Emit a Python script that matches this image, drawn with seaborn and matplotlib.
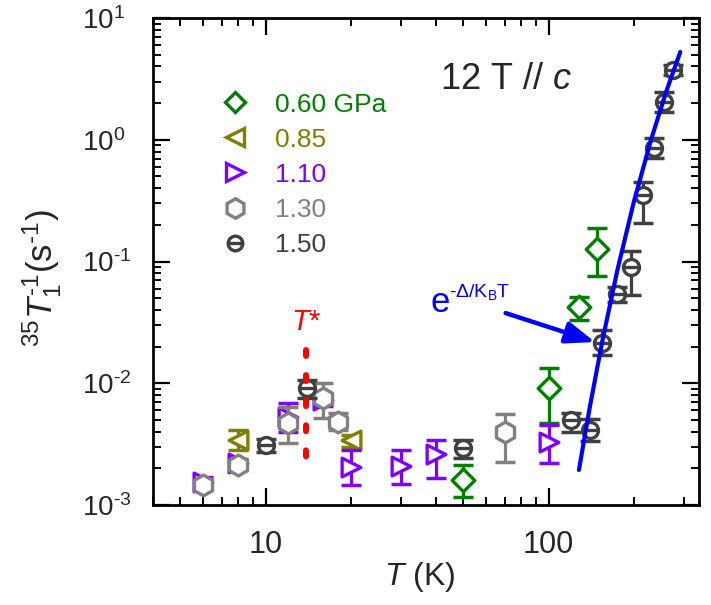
import numpy as np
import pandas as pd
import matplotlib
matplotlib.use('Agg')
import matplotlib.pyplot as plt
import seaborn as sns
from matplotlib.path import Path
from matplotlib.lines import Line2D
from matplotlib.ticker import LogLocator, NullFormatter, FuncFormatter

# ---------------- data ----------------
T_060 = [50, 100, 128, 148]
R_060 = [1.6e-3, 9.1e-3, 0.042, 0.127]
R_060_lo = [1.16e-3, 4.7e-3, 0.033, 0.076]
R_060_hi = [2.13e-3, 0.0133, 0.051, 0.188]

T_085 = [8, 20]
R_085 = [3.4e-3, 3.4e-3]
R_085_lo = [2.85e-3, 3.0e-3]
R_085_hi = [4.1e-3, 3.75e-3]

T_110 = [6, 8, 12, 16, 20, 30, 40, 100]
R_110 = [1.55e-3, 2.2e-3, 5.3e-3, 7.3e-3, 2.05e-3, 2.1e-3, 2.6e-3, 3.3e-3]
R_110_lo = [1.45e-3, 2.0e-3, 4.0e-3, 6.5e-3, 1.46e-3, 1.5e-3, 1.67e-3, 2.2e-3]
R_110_hi = [1.7e-3, 2.4e-3, 6.9e-3, 8.0e-3, 2.83e-3, 2.83e-3, 3.4e-3, 4.5e-3]

T_130 = [6, 8, 12, 16, 18, 70]
R_130 = [1.45e-3, 2.13e-3, 4.7e-3, 7.6e-3, 4.8e-3, 3.98e-3]
R_130_lo = [1.33e-3, 1.95e-3, 3.2e-3, 5.2e-3, 4.1e-3, 2.25e-3]
R_130_hi = [1.55e-3, 2.3e-3, 6.4e-3, 0.010, 5.7e-3, 5.6e-3]

T_150 = [10, 14, 50, 120, 140, 155, 175, 195, 215, 235, 255, 275]
R_150 = [3.1e-3, 9.1e-3, 2.94e-3, 5.0e-3, 4.1e-3, 0.0214, 0.054, 0.090, 0.35, 0.855, 2.04, 3.74]
R_150_lo = [2.75e-3, 7.6e-3, 2.43e-3, 3.98e-3, 3.35e-3, 0.017, 0.0465, 0.053, 0.207, 0.71, 1.69, 3.4]
R_150_hi = [3.5e-3, 0.0106, 3.4e-3, 5.7e-3, 5.1e-3, 0.0273, 0.062, 0.122, 0.45, 1.03, 2.47, 4.1]

# activated (exponential) guide line
T_fit = [128, 140, 155, 175, 200, 230, 260, 292]
R_fit = [1.94e-3, 6.47e-3, 0.0225, 0.0849, 0.308, 0.995, 2.46, 5.26]

# T* marker line
T_star = [13.9, 13.9]
R_star = [0.0187, 2.26e-3]

pressure_labels = ['0.60 GPa', '0.85', '1.10', '1.30', '1.50']
colors = ['#008000', '#808000', '#8000FF', '#808080', '#404040']

# ---------------- style ----------------
sns.set_theme(style='ticks')
plt.rcParams['font.family'] = ['Liberation Sans', 'DejaVu Sans']
plt.rcParams['mathtext.fontset'] = 'custom'
plt.rcParams['mathtext.rm'] = 'Liberation Sans'
plt.rcParams['mathtext.it'] = 'Liberation Sans:italic'
plt.rcParams['mathtext.bf'] = 'Liberation Sans:bold'
plt.rcParams['mathtext.sf'] = 'Liberation Sans'
plt.rcParams['axes.unicode_minus'] = False

circ_minus = Path.make_compound_path(
    Path.unit_circle(),
    Path([(-1.0, 0.0), (1.0, 0.0)], [Path.MOVETO, Path.LINETO]))

markers = ['D', '<', '>', 'h', circ_minus]
msizes = [11.5, 13.5, 13.5, 15, 11.5]

fig = plt.figure(figsize=(7.11, 6.05), dpi=100)
ax = fig.add_axes([153 / 711, 1 - 505 / 605, 546 / 711, 487 / 605])

series = [
    (T_060, R_060, R_060_lo, R_060_hi),
    (T_085, R_085, R_085_lo, R_085_hi),
    (T_110, R_110, R_110_lo, R_110_hi),
    (T_130, R_130, R_130_lo, R_130_hi),
    (T_150, R_150, R_150_lo, R_150_hi),
]

for i, (T, R, lo, hi) in enumerate(series):
    R = np.asarray(R); lo = np.asarray(lo); hi = np.asarray(hi)
    ax.errorbar(T, R, yerr=[R - lo, hi - R], fmt='none', ecolor=colors[i],
                elinewidth=2.3, capsize=7.5, capthick=2.5, zorder=3 + i)
    df = pd.DataFrame({'T': T, 'R': R})
    sns.scatterplot(data=df, x='T', y='R', marker=markers[i], s=msizes[i] ** 2,
                    facecolor='white', edgecolor=colors[i], linewidth=2.4,
                    ax=ax, zorder=3.5 + i, legend=False)

fit_df = pd.DataFrame({'T': T_fit, 'R': R_fit})
sns.lineplot(data=fit_df, x='T', y='R', color='#0000FF', lw=3,
             estimator=None, sort=False, ax=ax, zorder=10)

ax.plot(T_star, R_star, color='#FF0000', lw=4.3, dashes=(1, 3.2),
        dash_capstyle='round', zorder=11)

ax.set_xscale('log')
ax.set_yscale('log')
ax.set_xlim(4, 340)
ax.set_ylim(1e-3, 1e1)

ax.annotate('', xy=(146, 0.0218), xytext=(70.5, 0.0377),
            arrowprops=dict(arrowstyle='-|>,head_length=0.8,head_width=0.3',
                            color='#0000FF', lw=3.2, mutation_scale=22,
                            shrinkA=0, shrinkB=0), zorder=12)

ax.text(70.5, 3.1, r'12 T // $\mathit{c}$', fontsize=26, ha='center', va='center')
ax.text(13.96, 0.032, r'$\mathit{T}$*', fontsize=21, color='#FF0000',
        ha='center', va='center')
ax.text(38.3, 0.0384, 'e', fontsize=25, color='#0000FF', ha='left', va='baseline')
ax.text(44.3, 0.051, r'$\mathregular{\text{-}\Delta/K_B T}$', fontsize=14, color='#0000FF',
        ha='left', va='baseline')

# legend
handles = [Line2D([], [], marker=markers[i], ls='none', mfc='white',
                  mec=colors[i], mew=2.4, ms=msizes[i] - 1) for i in range(5)]
ax.legend(handles, pressure_labels, loc='upper left', bbox_to_anchor=(0.126, 0.847),
          frameon=False, fontsize=19, handlelength=1.0, handletextpad=1.0,
          labelspacing=0.42, borderaxespad=0, borderpad=0, labelcolor=colors)

ax.set_xlabel(r'$\mathit{T}$ (K)', fontsize=23)
ax.set_ylabel(r'$^{35}\mathit{T}_1^{\text{-1}}$(s$^{\text{-1}}$)', fontsize=25)
ax.xaxis.set_label_coords(0.489, -0.113)
ax.yaxis.set_label_coords(-0.163, 0.466)


def ylog_fmt(v, p):
    e = int(round(np.log10(v)))
    return r'$\mathdefault{10^{\text{%d}}}$' % e


ax.xaxis.set_major_locator(LogLocator(base=10, numticks=10))
ax.xaxis.set_minor_locator(LogLocator(base=10, subs=np.arange(2, 10), numticks=20))
ax.yaxis.set_major_locator(LogLocator(base=10, numticks=10))
ax.yaxis.set_minor_locator(LogLocator(base=10, subs=np.arange(2, 10), numticks=20))
ax.xaxis.set_major_formatter(FuncFormatter(lambda v, p: f'{v:g}'))
ax.yaxis.set_major_formatter(FuncFormatter(ylog_fmt))
ax.xaxis.set_minor_formatter(NullFormatter())
ax.yaxis.set_minor_formatter(NullFormatter())

ax.tick_params(which='both', direction='in', top=True, right=True, color='black')
ax.tick_params(which='major', length=12, width=1.6)
ax.tick_params(which='minor', length=6, width=1.4)
ax.tick_params(axis='x', which='major', pad=18, labelsize=22)
ax.tick_params(axis='y', which='major', pad=51, labelsize=20)
for spine in ax.spines.values():
    spine.set_linewidth(2.0)
    spine.set_color('black')

fig.canvas.draw()
for lab in ax.yaxis.get_majorticklabels():
    lab.set_horizontalalignment('left')

fig.savefig('out.png', dpi=100)
